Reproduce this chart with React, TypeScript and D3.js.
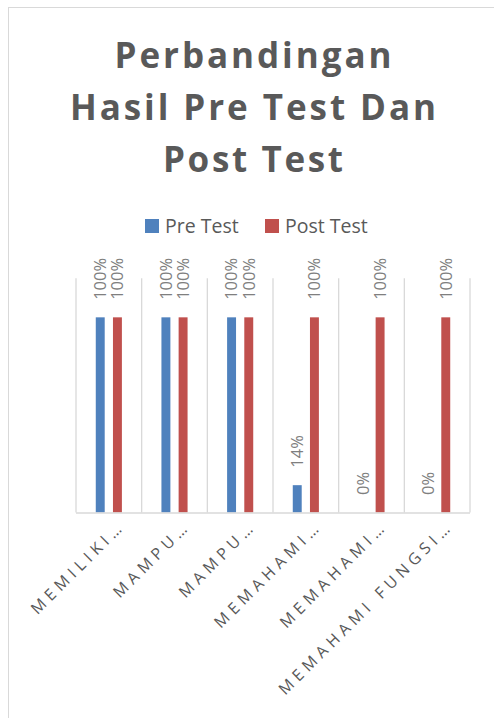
import * as d3 from 'd3';
import React, { useRef, useEffect } from 'react';

const W = 494;
const H = 718;

const categories = [
  'MEMILIKI…',
  'MAMPU…',
  'MAMPU…',
  'MEMAHAMI…',
  'MEMAHAMI…',
  'MEMAHAMI FUNGSI…',
];
const series = ['Pre Test', 'Post Test'];
const preTest = [1, 1, 1, 0.14, 0, 0];
const postTest = [1, 1, 1, 1, 1, 1];
const colors = ['#4f81bd', '#c0504d'];
const titleLines = ['Perbandingan', 'Hasil Pre Test Dan', 'Post Test'];

const plot = { left: 76, right: 470, top: 278.3, bottom: 512.5 };

function App() {
  const ref = useRef(null);

  useEffect(() => {
    const svg = d3.select(ref.current);
    svg.selectAll('*').remove();

    const values = [preTest, postTest];

    // outer chart border
    svg.append('rect')
      .attr('x', 8.5).attr('y', 7.5)
      .attr('width', 520).attr('height', 740)
      .attr('fill', '#fff')
      .attr('stroke', '#d9d9d9');

    // title
    const titleLens = [277, 366, 180];
    svg.append('g').selectAll('text')
      .data(titleLines)
      .enter()
      .append('text')
      .attr('x', 253)
      .attr('y', (d, i) => 68 + i * 52)
      .attr('text-anchor', 'middle')
      .attr('textLength', (d, i) => titleLens[i])
      .attr('lengthAdjust', 'spacing')
      .style('font-family', '"Open Sans", sans-serif')
      .style('font-weight', 'bold')
      .style('font-size', '35px')
      .attr('fill', '#595959')
      .text(d => d);

    // legend
    const legendX = [145, 265];
    const lg = svg.append('g');
    series.forEach((s, i) => {
      lg.append('rect')
        .attr('x', legendX[i]).attr('y', 219)
        .attr('width', 14).attr('height', 14)
        .attr('fill', colors[i]);
      lg.append('text')
        .attr('x', legendX[i] + 20).attr('y', 233)
        .style('font-family', '"Open Sans", sans-serif')
        .style('font-size', '19.5px')
        .attr('fill', '#595959')
        .text(s);
    });

    const x = d3.scaleBand()
      .domain(d3.range(categories.length))
      .range([plot.left, plot.right])
      .padding(0);
    const xs = d3.scaleBand()
      .domain(series)
      .range([0, x.bandwidth()])
      .paddingInner(0.48)
      .paddingOuter(1.15);
    const y = d3.scaleLinear()
      .domain([0, 1.2])
      .range([plot.bottom, plot.top]);

    // vertical gridlines at category boundaries
    const bounds = d3.range(categories.length + 1).map(i =>
      i < categories.length ? x(i) : plot.right);
    svg.append('g').selectAll('line')
      .data(bounds)
      .enter()
      .append('line')
      .attr('x1', d => d).attr('x2', d => d)
      .attr('y1', plot.top).attr('y2', plot.bottom)
      .attr('stroke', '#d9d9d9')
      .attr('stroke-width', 1.3);

    // bars
    series.forEach((s, si) => {
      svg.append('g').selectAll('rect')
        .data(values[si])
        .enter()
        .append('rect')
        .attr('x', (d, i) => x(i) + xs(s))
        .attr('y', d => y(d))
        .attr('width', xs.bandwidth())
        .attr('height', d => y(0) - y(d))
        .attr('fill', colors[si]);

      svg.append('g').selectAll('text')
        .data(values[si])
        .enter()
        .append('text')
        .attr('transform', (d, i) => {
          const cx = x(i) + xs(s) + xs.bandwidth() / 2;
          return 'translate(' + cx + ',' + (y(d) - 17.5) + ') rotate(-90)';
        })
        .attr('dy', '0.35em')
        .attr('text-anchor', 'start')
        .style('font-family', '"Open Sans", sans-serif')
        .style('font-size', '16.5px')
        .attr('fill', '#7f7f7f')
        .text(d => d3.format('.0%')(d));
    });

    // baseline
    svg.append('line')
      .attr('x1', plot.left).attr('x2', plot.right)
      .attr('y1', y(0) + 0.5).attr('y2', y(0) + 0.5)
      .attr('stroke', '#d9d9d9')
      .attr('stroke-width', 1.5);

    // category labels
    svg.append('g').selectAll('text')
      .data(categories)
      .enter()
      .append('text')
      .attr('transform', (d, i) =>
        'translate(' + (x(i) + x.bandwidth() / 2 + 17) + ',' + 527 + ') rotate(-45)')
      .attr('text-anchor', 'end')
      .style('font-family', '"Open Sans", sans-serif')
      .style('font-size', '16px')
      .style('letter-spacing', '4.8px')
      .attr('fill', '#595959')
      .text(d => d);
  }, []);

  return (
    <svg ref={ref} width={W} height={H}
      style={{ position: 'absolute', left: 0, top: 0, background: '#fff' }}>
    </svg>
  );
}

export default App;
